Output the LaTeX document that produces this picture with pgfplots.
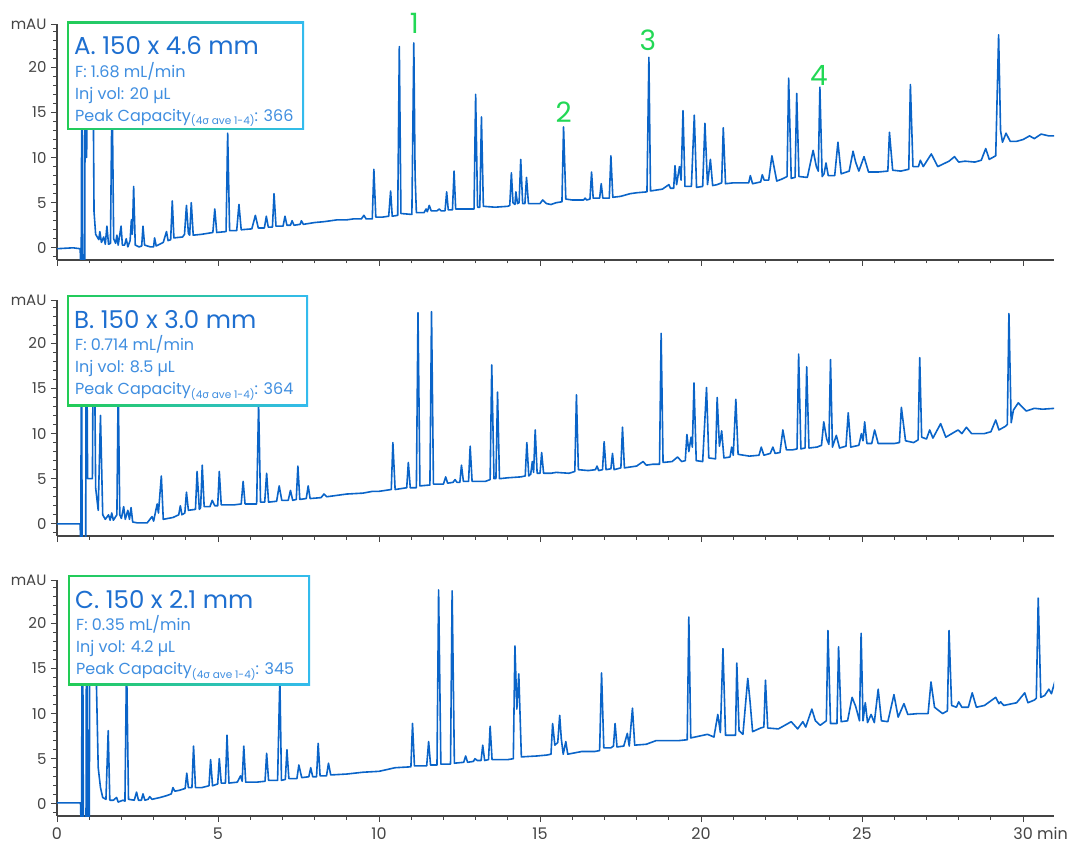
\documentclass[border=0pt]{standalone}
\usepackage{fontspec}
\setmainfont{Poppins}
\newfontfamily\greekfont{DejaVu Sans}
\usepackage{pgfplots}
\pgfplotsset{compat=1.18}
\definecolor{trace}{HTML}{0A64C8}
\definecolor{txtblue}{HTML}{1E6FD0}
\definecolor{txtlight}{HTML}{3F8EE0}
\definecolor{lblgreen}{HTML}{22D855}
\definecolor{boxgreen}{HTML}{22CC55}
\definecolor{boxcyan}{HTML}{33BBEE}
\definecolor{axgray}{HTML}{444444}
\pgfplotsset{
  chrom/.style={
    scale only axis, width=997pt, height=236pt,
    xmin=0, xmax=30.96, ymin=-1.35, ymax=24.8,
    axis x line*=bottom, axis y line*=left,
    axis line style={axgray, line width=1.1pt},
    xtick={0,5,...,30}, minor x tick num=4,
    ytick={0,5,10,15,20,24.8},
    yticklabels={0,5,10,15,20,mAU},
    minor ytick={-1,1,2,3,4,6,7,8,9,11,12,13,14,16,17,18,19,21,22,23,24},
    tick align=outside,
    major tick length=6pt, minor tick length=3.5pt,
    every tick/.style={axgray, line width=0.9pt},
    tick label style={text=axgray, font=\fontsize{15}{18}\selectfont},
    /pgf/number format/assume math mode=true,
    yticklabel style={xshift=-1pt},
    clip mode=individual,
  },
  trc/.style={trace, line width=1.6pt, line join=round},
}
\newcommand\infobox[6]{%
  \shade[left color=boxgreen, right color=boxcyan] (#1,-#2) rectangle (#3,-#4);
  \fill[white] ({#1+1.6},{-#2-1.6}) rectangle ({#3-1.6},{-#4+1.6});
  \node[anchor=base west, text=txtblue, font=\fontsize{24.5}{30}\selectfont, inner sep=0pt] at ({#1+7},{-#2-33}) {#5};
  #6
}
\newcommand\infoline[3]{\node[anchor=base west, text=txtlight, font=\fontsize{16}{18}\selectfont, inner sep=0pt] at (#1,-#2) {#3};}
\newcommand\pc{Peak Capacity\raisebox{-3.5pt}{\fontsize{10.5}{12}\selectfont(4{\greekfont σ} ave 1-4)}}
\begin{document}
\begin{tikzpicture}[x=1pt,y=1pt]
\useasboundingbox (0,0) rectangle (1071,-845);
% ---------------- Panel A ----------------
\begin{axis}[chrom, at={(57pt,-24pt)}, anchor=north west, xticklabels={}]
\addplot[trc] coordinates {
(0,-0.1) (0.5,0) (0.72,-0.1) (0.75,-4) (0.78,30) (0.8,-4) (0.86,-4) (0.88,30) (0.92,10) (0.97,30) (1.1,30) (1.15,4) (1.2,1.5) (1.3,0.9)
(1.33,1.8) (1.38,0.6) (1.45,1.2) (1.5,0.4) (1.55,2.4) (1.6,0.4) (1.66,0.5) (1.71,18) (1.76,1) (1.82,0.5) (1.86,1.4) (1.9,0.3)
(1.99,2.4) (2.03,0.3) (2.1,0.3) (2.15,1.0) (2.2,0.1) (2.27,0.8) (2.31,3.1) (2.34,1.5) (2.38,6.8) (2.43,0.3) (2.55,0.1) (2.63,0.2)
(2.67,2.4) (2.72,0.3) (2.9,0.1) (3.0,0.1) (3.03,1.1) (3.08,0.2) (3.3,0.6) (3.4,1.8) (3.45,0.8) (3.53,0.9) (3.58,5.2) (3.63,1.1)
(3.9,1.2) (3.96,1.5) (4.02,4.7) (4.08,1.6) (4.12,1.4) (4.17,5.0) (4.23,1.4) (4.5,1.5) (4.84,1.7) (4.9,4.3) (4.96,1.7) (5.25,1.8)
(5.3,12.7) (5.36,1.9) (5.58,1.9) (5.65,4.8) (5.72,2.0) (6.05,2.1) (6.16,3.6) (6.25,2.2) (6.44,2.2) (6.5,3.5) (6.56,2.3) (6.69,2.3)
(6.74,6.0) (6.8,2.4) (7.02,2.4) (7.08,3.5) (7.14,2.5) (7.25,2.5) (7.3,3.0) (7.36,2.5) (7.55,2.6) (7.59,3.0) (7.65,2.6) (8,2.8)
(8.3,2.9) (8.5,3.0) (8.7,3.1) (9.0,3.1) (9.2,3.2) (9.45,3.2) (9.53,3.6) (9.6,3.2) (9.79,3.2) (9.84,8.7) (9.9,3.4) (10.1,3.4) (10.3,3.5) (10.36,6.3) (10.41,3.5)
(10.58,3.6) (10.63,22.3) (10.68,3.8) (11.02,3.7) (11.08,22.7) (11.12,8) (11.16,3.9) (11.4,3.9) (11.46,4.3) (11.5,4.0) (11.56,4.7)
(11.62,4.1) (11.8,4.1) (11.87,4.3) (11.93,4.1) (12.05,4.1) (12.1,6.2) (12.15,4.2) (12.28,4.2) (12.33,8.5) (12.38,4.3) (12.95,4.3)
(13.0,17.0) (13.06,4.5) (13.13,4.5) (13.18,14.5) (13.24,4.6) (13.6,4.5) (14.0,4.6) (14.06,4.7) (14.11,8.3) (14.16,5.0) (14.22,4.8) (14.25,6.2)
(14.3,4.9) (14.35,5.0) (14.4,9.8) (14.46,4.9) (14.53,4.9) (14.58,7.8) (14.64,4.9) (15.0,4.9) (15.08,5.3) (15.2,4.9) (15.34,4.8)
(15.5,5.0) (15.68,5.1) (15.73,13.4) (15.8,5.4) (16.0,5.3) (16.35,5.3) (16.4,5.5) (16.45,5.3) (16.55,5.4) (16.6,8.4) (16.65,5.5)
(16.85,5.5) (16.9,7.1) (16.95,5.5) (17.15,5.5) (17.2,10.2) (17.26,5.6) (17.5,5.7) (17.8,6.0) (18.0,6.1) (18.32,6.2) (18.38,21.1)
(18.43,6.3) (18.8,6.5) (19.0,7.0) (19.05,6.6) (19.15,6.6) (19.19,9.1) (19.24,7.0) (19.33,9.0) (19.38,7.5) (19.44,15.2) (19.5,6.8)
(19.7,6.8) (19.79,14.7) (19.86,6.7) (20.05,6.8) (20.12,13.8) (20.2,7.0) (20.29,9.8) (20.36,6.9) (20.5,7.0) (20.64,7.2) (20.69,13.3)
(20.76,7.1) (21.0,7.2) (21.48,7.2) (21.53,8.0) (21.6,7.1) (21.85,7.3) (21.9,8.1) (21.96,7.5) (22.1,7.5) (22.2,10.2) (22.35,7.4)
(22.5,7.6) (22.67,7.9) (22.72,18.8) (22.8,7.7) (22.92,7.8) (22.97,17.1) (23.04,7.9) (23.3,7.8) (23.48,10.8) (23.58,9.0) (23.64,8.5)
(23.69,17.8) (23.76,7.9) (23.82,8.2) (23.88,9.4) (23.95,8.0) (24.15,8.0) (24.25,11.7) (24.35,8.2) (24.6,8.5) (24.72,10.7) (24.8,9.5)
(24.9,8.5) (25.06,10.1) (25.2,8.4) (25.5,8.4) (25.8,8.5) (25.85,12.8) (25.95,8.6) (26.2,8.5) (26.45,8.7) (26.5,18.1) (26.58,9.0)
(26.75,9.0) (26.81,9.7) (26.9,9.0) (27.15,10.4) (27.35,9.0) (27.7,9.6) (27.87,10.1) (28.0,9.5) (28.2,9.6) (28.5,9.5) (28.7,9.7)
(28.84,11.0) (28.95,9.8) (29.15,10.2) (29.24,23.6) (29.3,13) (29.36,11.7) (29.47,12.7) (29.6,11.8) (29.8,11.8) (30.0,12.0)
(30.2,12.4) (30.35,12.1) (30.56,12.6) (30.8,12.4) (31.0,12.4)
};
\node[lblgreen, anchor=base, font=\fontsize{28}{30}\selectfont, inner sep=0pt] at (axis cs:11.1,23.8) {1};
\node[lblgreen, anchor=base, font=\fontsize{28}{30}\selectfont, inner sep=0pt] at (axis cs:15.73,13.9) {2};
\node[lblgreen, anchor=base, font=\fontsize{28}{30}\selectfont, inner sep=0pt] at (axis cs:18.35,21.9) {3};
\node[lblgreen, anchor=base, font=\fontsize{28}{30}\selectfont, inner sep=0pt] at (axis cs:23.66,18.0) {4};
\end{axis}
% ---------------- Panel B ----------------
\begin{axis}[chrom, at={(57pt,-300pt)}, anchor=north west, xticklabels={}]
\addplot[trc] coordinates {
(0,0) (0.72,0) (0.74,-4) (0.76,30) (0.78,-4) (0.89,-4) (0.91,30) (0.95,5) (1.1,5) (1.14,30) (1.2,4) (1.28,1.5) (1.35,12.0) (1.42,1)
(1.5,0.5) (1.6,1.0) (1.65,0.4) (1.7,1.2) (1.75,0.4) (1.86,1.0) (1.9,15.5) (1.95,1.0) (2.0,0.6) (2.07,1.9) (2.12,0.5) (2.2,1.5)
(2.25,0.5) (2.3,1.8) (2.35,0.2) (2.5,0.1) (2.8,0.1) (2.95,0.8) (3.0,0.3) (3.11,2.2) (3.15,1.2) (3.24,5.3) (3.3,0.5) (3.6,0.7)
(3.78,1.0) (3.83,2.0) (3.88,1.0) (3.97,1.2) (4.02,3.5) (4.08,1.5) (4.3,1.6) (4.35,5.8) (4.42,1.6) (4.46,1.8) (4.51,6.5) (4.57,1.9)
(4.75,1.9) (4.82,2.6) (4.9,2.0) (4.99,2.0) (5.04,5.8) (5.1,2.1) (5.5,2.1) (5.72,2.2) (5.78,4.7) (5.84,2.2) (6.2,2.2) (6.26,13.3)
(6.32,2.4) (6.45,2.4) (6.51,5.6) (6.57,2.4) (6.82,2.5) (6.9,4.2) (6.98,2.6) (7.18,2.6) (7.25,3.7) (7.32,2.6) (7.43,2.7) (7.48,6.4)
(7.54,2.7) (7.74,2.8) (7.8,4.2) (7.86,2.8) (8.2,2.9) (8.29,3.3) (8.38,3.0) (9.0,3.3) (9.5,3.4) (9.8,3.6) (10.0,3.6) (10.38,3.8)
(10.43,9.0) (10.5,3.8) (10.86,4.0) (10.91,6.8) (10.97,4.0) (11.16,4.0) (11.21,23.4) (11.27,4.2) (11.58,4.3) (11.63,23.5) (11.69,4.4)
(12.0,4.4) (12.07,5.2) (12.13,4.5) (12.3,4.6) (12.36,4.9) (12.42,4.6) (12.51,4.6) (12.56,6.5) (12.62,4.7) (12.78,4.7) (12.83,8.6)
(12.89,4.7) (13.3,4.7) (13.45,4.9) (13.5,17.6) (13.57,5.0) (13.63,5.0) (13.68,14.6) (13.74,5.0) (14.0,5.1) (14.4,5.2) (14.54,5.3)
(14.59,9.0) (14.65,5.3) (14.71,5.5) (14.76,6.9) (14.8,5.7) (14.85,10.4) (14.91,5.6) (15.0,5.6) (15.05,7.9) (15.11,5.6) (15.34,5.6)
(15.5,5.7) (15.9,5.6) (16.08,5.8) (16.13,14.3) (16.19,6.0) (16.5,5.9) (16.72,6.0) (16.77,6.4) (16.82,5.9) (16.94,6.0) (16.99,9.1)
(17.05,6.0) (17.2,6.1) (17.25,7.8) (17.3,6.0) (17.51,6.2) (17.56,10.7) (17.62,6.2) (18.0,6.4) (18.2,6.9) (18.3,6.5) (18.5,6.6)
(18.71,6.6) (18.76,21.1) (18.82,6.8) (19.1,6.9) (19.27,7.4) (19.4,6.9) (19.51,7.0) (19.56,9.9) (19.62,8.0) (19.69,9.6) (19.73,8.5)
(19.78,15.6) (19.85,7.0) (20.05,6.9) (20.17,15.1) (20.24,7.3) (20.45,7.2) (20.5,14.0) (20.57,8.6) (20.64,10.3) (20.71,7.3) (20.9,7.4)
(20.95,8.5) (21.0,7.6) (21.08,13.8) (21.15,7.7) (21.5,7.5) (21.8,7.6) (21.87,8.5) (21.95,7.6) (22.15,7.8) (22.23,8.5) (22.3,7.8)
(22.45,7.9) (22.54,10.4) (22.65,8.2) (22.85,8.2) (22.98,8.3) (23.03,18.8) (23.1,8.3) (23.23,8.4) (23.28,17.4) (23.35,8.4) (23.6,8.5)
(23.74,8.7) (23.81,11.3) (23.9,9.4) (23.97,8.8) (24.02,18.2) (24.08,8.5) (24.2,9.8) (24.3,8.4) (24.5,8.6) (24.57,12.3) (24.65,8.5)
(24.9,8.7) (24.98,10.0) (25.03,9.2) (25.08,11.3) (25.15,8.9) (25.3,8.9) (25.39,10.4) (25.5,8.9) (26.0,8.9) (26.16,9.0) (26.22,12.9)
(26.35,9.2) (26.6,9.0) (26.74,9.3) (26.79,18.4) (26.85,9.6) (27.0,9.4) (27.1,10.4) (27.2,9.5) (27.44,11.1) (27.6,9.6) (27.98,10.4)
(28.1,10.0) (28.24,10.7) (28.4,10.0) (28.8,10.0) (29.0,10.2) (29.15,11.5) (29.25,10.4) (29.45,10.8) (29.51,11.0) (29.56,23.3)
(29.63,11.2) (29.7,12.6) (29.85,13.4) (30.1,12.5) (30.35,12.8) (30.6,12.7) (31.0,12.8)
};
\end{axis}
% ---------------- Panel C ----------------
\begin{axis}[chrom, at={(57pt,-580pt)}, anchor=north west,
  xticklabels={0,5,10,15,20,25,{30\rlap{ min}}},
  xticklabel style={font=\fontsize{16}{18}\selectfont, yshift=-2pt}]
\addplot[trc] coordinates {
(0,0.1) (0.73,0.1) (0.76,-4) (0.79,30) (0.82,-4) (0.9,-4) (0.92,30) (0.96,-4) (1.0,-4) (1.03,30) (1.15,30) (1.22,14) (1.28,4)
(1.35,1.8) (1.42,0.7) (1.52,0.5) (1.59,8.1) (1.64,0.4) (1.75,0.4) (1.85,0.7) (1.9,0.2) (2.05,0.4) (2.11,0.3) (2.16,16) (2.22,0.5)
(2.4,0.4) (2.47,1.3) (2.53,0.4) (2.62,0.4) (2.67,1.1) (2.73,0.4) (2.83,0.5) (2.88,0.8) (2.95,0.5) (3.2,0.7) (3.4,0.9) (3.55,1.1)
(3.6,1.8) (3.66,1.4) (3.8,1.5) (3.98,1.7) (4.03,3.4) (4.08,1.8) (4.19,1.8) (4.24,6.4) (4.3,1.8) (4.5,1.8) (4.72,2.0) (4.77,4.9)
(4.83,2.0) (4.99,2.2) (5.04,5.0) (5.1,2.3) (5.23,2.3) (5.28,7.6) (5.34,2.3) (5.6,2.4) (5.7,3.1) (5.75,2.5) (5.8,6.4) (5.86,2.4)
(6.2,2.4) (6.46,2.5) (6.51,5.6) (6.57,2.6) (6.85,2.6) (6.92,14) (6.97,2.6) (7.09,2.7) (7.14,6.0) (7.2,2.8) (7.45,2.8) (7.51,4.3)
(7.6,2.9) (7.82,3.0) (7.88,4.0) (7.94,3.0) (8.06,3.0) (8.11,6.7) (8.17,3.1) (8.37,3.1) (8.43,4.5) (8.5,3.2) (9.0,3.3) (9.5,3.5)
(10.0,3.6) (10.5,4.0) (10.99,4.1) (11.04,8.9) (11.1,4.2) (11.48,4.2) (11.54,6.9) (11.6,4.3) (11.8,4.3) (11.85,23.7) (11.92,4.4)
(12.22,4.4) (12.27,23.6) (12.34,4.5) (12.63,4.6) (12.69,5.3) (12.75,4.6) (12.93,4.7) (12.98,5.0) (13.05,4.8) (13.17,4.8) (13.22,6.5)
(13.28,4.8) (13.4,4.9) (13.45,8.6) (13.51,4.9) (14.0,4.9) (14.17,5.0) (14.22,17.5) (14.28,10.5) (14.34,14.4) (14.42,5.2) (14.9,5.3)
(15.2,5.4) (15.34,5.5) (15.39,8.9) (15.46,6.5) (15.55,6.8) (15.61,9.8) (15.66,7.2) (15.72,5.5) (15.8,6.9) (15.86,5.5) (16.3,5.8)
(16.7,5.8) (16.85,5.9) (16.91,14.5) (16.98,6.2) (17.2,6.2) (17.28,6.4) (17.33,8.9) (17.39,6.3) (17.6,6.4) (17.71,7.8) (17.77,6.4)
(17.87,10.6) (17.94,6.5) (18.3,6.6) (18.6,7.0) (19.0,7.0) (19.3,7.0) (19.57,7.1) (19.62,20.7) (19.68,7.3) (20.2,7.7) (20.4,7.4)
(20.52,9.9) (20.6,7.9) (20.68,17.2) (20.76,7.6) (20.93,7.6) (21.07,7.6) (21.11,15.6) (21.18,8.1) (21.3,7.7) (21.45,13.9) (21.52,11.4)
(21.6,8.0) (21.85,8.4) (21.95,8.5) (22.0,13.7) (22.07,8.4) (22.4,8.3) (22.8,9.1) (23.0,8.3) (23.16,9.1) (23.25,8.5) (23.44,10.5)
(23.55,9.2) (23.7,8.7) (23.89,9.2) (23.94,19.2) (24.02,8.9) (24.22,8.9) (24.27,17.4) (24.35,9.1) (24.55,9.2) (24.69,11.8) (24.8,10.8)
(24.92,9.2) (24.97,18.9) (25.03,9.2) (25.1,11.2) (25.17,9.0) (25.28,9.9) (25.38,9.0) (25.5,12.7) (25.6,9.2) (25.8,9.1) (25.99,12.1)
(26.12,9.6) (26.3,11.1) (26.42,9.9) (26.75,10.0) (27.05,10.0) (27.14,13.5) (27.25,10.7) (27.5,10.0) (27.65,10.3) (27.7,19.2)
(27.78,10.9) (27.93,10.7) (28.0,11.3) (28.1,10.7) (28.3,10.7) (28.42,12.3) (28.55,10.7) (28.8,10.9) (29.15,11.8) (29.25,11.1)
(29.3,11.3) (29.4,10.9) (29.8,11.2) (30.05,12.3) (30.15,11.2) (30.35,11.5) (30.41,11.7) (30.47,22.8) (30.55,11.8) (30.67,12.0)
(30.8,12.7) (30.88,12.2) (31.0,13.7)
};
\end{axis}
% ---------------- Info boxes ----------------
\infobox{67}{22}{304}{130}{A. 150 x 4.6 mm}{%
  \infoline{75}{77.5}{F: 1.68 mL/min}
  \infoline{75}{99.5}{Inj vol: 20 µL}
  \infoline{75}{121.5}{\pc: 366}}
\infobox{67}{295}{308}{406}{B. 150 x 3.0 mm}{%
  \infoline{75}{350.5}{F: 0.714 mL/min}
  \infoline{75}{372.5}{Inj vol: 8.5 µL}
  \infoline{75}{394.5}{\pc: 364}}
\infobox{68}{575}{310}{685}{C. 150 x 2.1 mm}{%
  \infoline{76}{630.5}{F: 0.35 mL/min}
  \infoline{76}{652.5}{Inj vol: 4.2 µL}
  \infoline{76}{674.5}{\pc: 345}}
\end{tikzpicture}
\end{document}
